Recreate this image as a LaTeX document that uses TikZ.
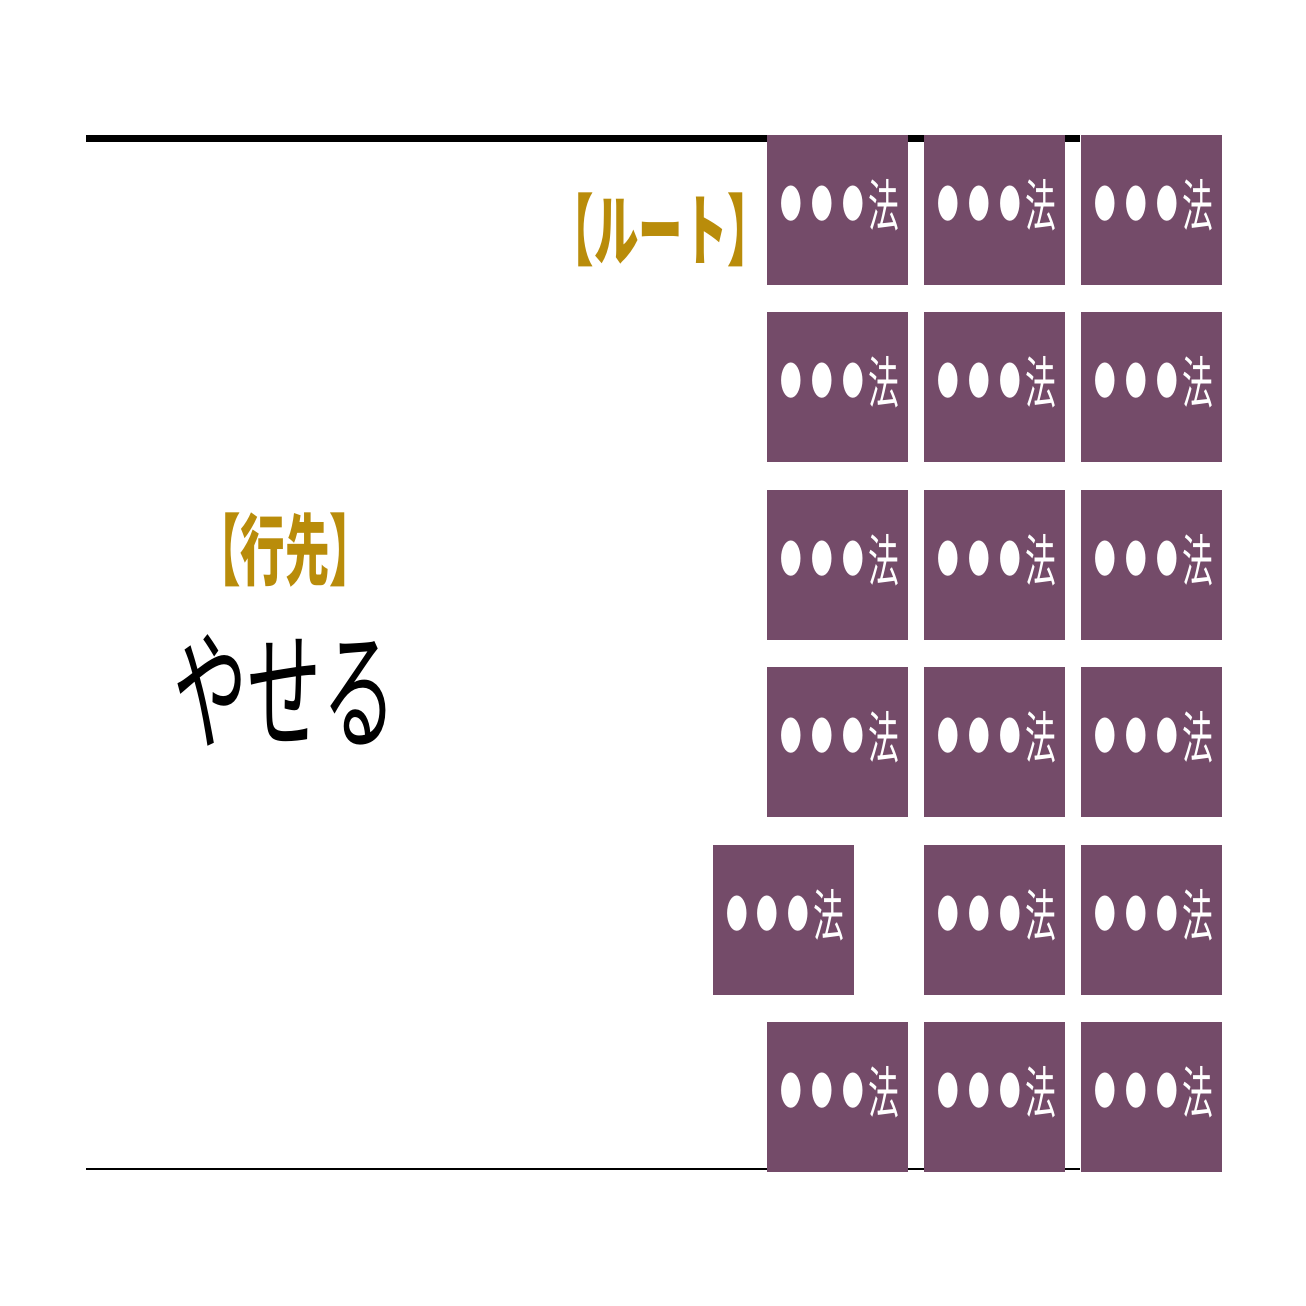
\documentclass[tikz,border=0pt]{standalone}
\usepackage{fontspec}
\usepackage{graphicx}
\newfontfamily\cjk{Noto Sans CJK JP}
\definecolor{boxpurple}{RGB}{116,75,105}
\definecolor{gold}{RGB}{185,140,10}
\tikzset{
  hobox/.style={fill=boxpurple, draw=none, minimum width=70.5pt, minimum height=75pt, inner sep=0pt,
    text=white, font=\cjk\fontsize{28pt}{28pt}\selectfont, text height=22pt, text depth=6pt},
  goldlabel/.style={text=gold, font=\cjk\bfseries\fontsize{39pt}{39pt}\selectfont, inner sep=0pt},
  biglabel/.style={text=black, font=\cjk\fontsize{65pt}{65pt}\selectfont, inner sep=0pt}
}
\newcommand{\hodot}{\makebox[1em]{\raisebox{4pt}{\scalebox{0.7}{●}}}}
\newcommand{\hotxt}{\scalebox{0.55}[1]{\hodot\hodot\hodot 法}}
\begin{document}
\begin{tikzpicture}[x=0.5pt,y=-0.5pt]
\useasboundingbox (0,0) rectangle (1306,1306);
\coordinate (tl) at (86,138.5);
\coordinate (tr) at (1080,138.5);
\coordinate (bl) at (86,1169);
\coordinate (br) at (1080,1169);
\draw[line width=3.5pt] (tl) -- (tr);
\draw[line width=1pt] (bl) -- (br);
\foreach \r/\y in {1/210,2/387,3/565,4/742,5/920,6/1097}{
  \foreach \c/\x in {1/837.5,2/994.5,3/1151.5}{
    \ifnum\r=5 \ifnum\c=1 \def\xx{783}\else\def\xx{\x}\fi\else\def\xx{\x}\fi
    \node[hobox] (b\r\c) at (\xx,\y) {\hotxt};
  }
}
\node[goldlabel] (route) at (661,230) {\scalebox{0.57}[1]{【ルート】}};
\node[goldlabel] (dest) at (285,550) {\scalebox{0.57}[1]{【行先】}};
\node[biglabel] (yaseru) at (285,690) {\scalebox{0.57}[1]{やせる}};
\end{tikzpicture}
\end{document}
